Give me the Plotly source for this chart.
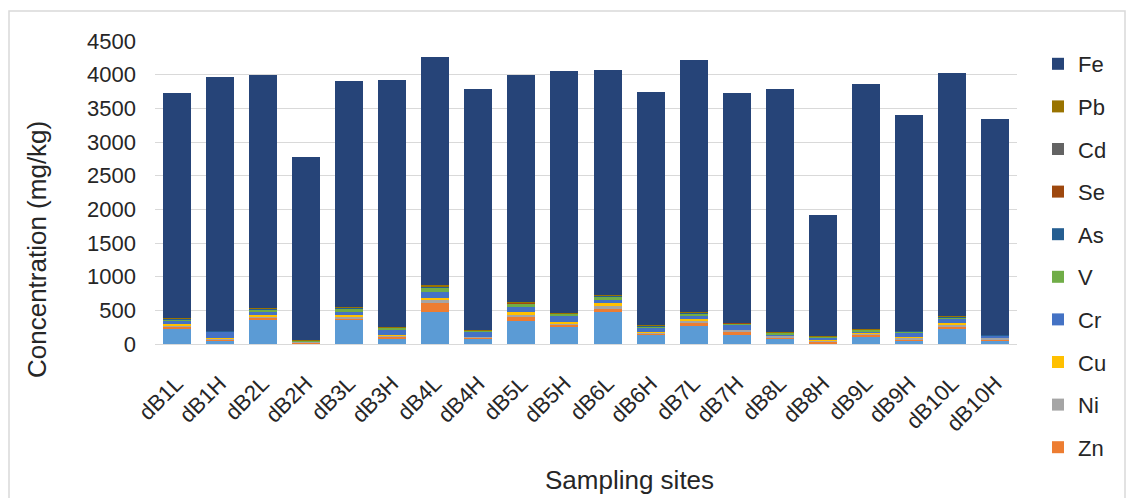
import plotly.graph_objects as go

sites = ["dB1L", "dB1H", "dB2L", "dB2H", "dB3L", "dB3H", "dB4L", "dB4H", "dB5L", "dB5H",
         "dB6L", "dB6H", "dB7L", "dB7H", "dB8L", "dB8H", "dB9L", "dB9H", "dB10L", "dB10H"]

Mn = [232, 45, 360, 10, 350, 75, 480, 75, 340, 260, 470, 135, 270, 135, 75, 10, 110, 45, 220, 45]
Zn = [25, 20, 30, 10, 30, 35, 125, 15, 55, 25, 50, 20, 40, 40, 25, 20, 25, 25, 40, 25]
Ni = [25, 15, 25, 10, 25, 10, 50, 15, 35, 25, 45, 20, 35, 35, 20, 25, 25, 25, 25, 25]
Cu = [20, 5, 20, 3, 20, 10, 35, 5, 45, 10, 40, 5, 25, 5, 5, 5, 10, 5, 25, 5]
Cr = [40, 95, 40, 10, 50, 90, 80, 70, 75, 110, 50, 65, 40, 60, 20, 35, 20, 70, 55, 20]
V = [25, 10, 40, 8, 45, 20, 70, 15, 50, 20, 57, 20, 50, 30, 20, 10, 20, 20, 35, 12]
As = [10, 5, 10, 3, 15, 5, 10, 5, 8, 5, 10, 5, 8, 5, 5, 5, 5, 5, 8, 3]
Se = [3, 2, 3, 1, 3, 2, 5, 2, 3, 2, 3, 2, 3, 2, 2, 1, 1, 1, 3, 1]
Cd = [2, 1, 2, 1, 2, 1, 3, 1, 2, 1, 2, 1, 2, 1, 1, 1, 1, 1, 2, 1]
Pb = [10, 2, 10, 3, 10, 2, 12, 2, 7, 2, 8, 2, 7, 2, 2, 2, 3, 3, 7, 3]
Fe = [3341, 3770, 3455, 2711, 3361, 3676, 3392, 3576, 3375, 3594,
      3329, 3468, 3733, 3413, 3607, 1809, 3637, 3206, 3609, 3198]

series = [
    ("Mn", Mn, "#5B9BD5", False),
    ("Zn", Zn, "#ED7D31", True),
    ("Ni", Ni, "#A5A5A5", True),
    ("Cu", Cu, "#FFC000", True),
    ("Cr", Cr, "#4472C4", True),
    ("V", V, "#70AD47", True),
    ("As", As, "#255E91", True),
    ("Se", Se, "#9E480E", True),
    ("Cd", Cd, "#636363", True),
    ("Pb", Pb, "#997300", True),
    ("Fe", Fe, "#264478", True),
]

fig = go.Figure()
n = len(series)
for i, (name, vals, col, show) in enumerate(series):
    fig.add_trace(go.Bar(x=sites, y=vals, name=name, marker_color=col,
                         marker_line_width=0, legendgroup=name, showlegend=show,
                         legendrank=n - i))

FONT = "Liberation Sans, Arial, sans-serif"
W, H = 1132, 498
ml, mr, mt, mb = 155, 115, 41, 154
pw = W - ml - mr
ph = H - mt - mb

def px_x(x):
    return (x - ml) / pw

def px_y(y):
    return (H - mb - y) / ph

fig.update_layout(
    width=W, height=H,
    barmode="stack", bargap=0.35,
    margin=dict(l=ml, r=mr, t=mt, b=mb, autoexpand=False),
    paper_bgcolor="white", plot_bgcolor="white",
    font=dict(family=FONT, size=22, color="#262626"),
    legend=dict(traceorder="grouped", tracegroupgap=11, maxheight=490,
                x=px_x(1038), xanchor="left", y=px_y(43), yanchor="top",
                font=dict(size=22, color="#262626"), itemwidth=30,
                bgcolor="rgba(0,0,0,0)"),
    xaxis=dict(tickangle=-45, showgrid=False, showline=True, linecolor="#d9d9d9",
               linewidth=1, ticks="", tickfont=dict(size=22, color="#262626"),
               ticklabelstandoff=17),
    yaxis=dict(range=[0, 4500], dtick=500, showgrid=True, gridcolor="#d9d9d9",
               gridwidth=1, zeroline=False, showline=False, ticks="",
               tickfont=dict(size=22, color="#262626"), ticklabelstandoff=18),
    annotations=[
        dict(text="Concentration (mg/kg)", xref="paper", yref="paper",
             x=px_x(37.5), y=px_y(249.5), textangle=-90, showarrow=False,
             font=dict(size=26, color="#262626"), xanchor="center", yanchor="middle"),
        dict(text="Sampling sites", xref="paper", yref="paper",
             x=px_x(629), y=px_y(480), showarrow=False,
             font=dict(size=26, color="#262626"), xanchor="center", yanchor="middle"),
    ],
    shapes=[
        dict(type="rect", xref="paper", yref="paper",
             x0=px_x(9), x1=px_x(1125), y0=px_y(520), y1=px_y(11),
             line=dict(color="#d9d9d9", width=1.5), fillcolor="rgba(0,0,0,0)", layer="below"),
    ],
)

fig.write_html("out.html", config={"displayModeBar": False},
               post_script="document.body.style.margin='0';")
